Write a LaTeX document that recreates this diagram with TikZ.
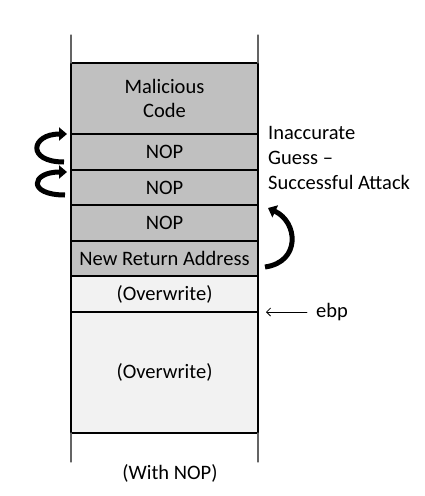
\documentclass[tikz,border=0pt]{standalone}
\usepackage{fontspec}
\setmainfont{Carlito}
\usetikzlibrary{positioning,arrows.meta}
\definecolor{cellgray}{RGB}{192,192,192}
\definecolor{cellpale}{RGB}{242,242,242}
\definecolor{railgray}{RGB}{100,100,100}
\begin{document}
\begin{tikzpicture}[x=1pt,y=-1pt,line cap=round,line join=round,>=latex,
    cell/.style={draw,line width=1.4pt,minimum width=187pt,inner sep=0pt,outer sep=0pt,
      font=\fontsize{20.5}{24.5}\selectfont,align=center},
    rail/.style={draw=railgray,line width=1.2pt},
    hop/.style={line width=5pt,line cap=butt,-{Triangle[length=8pt,width=13pt]}},
    ptr/.style={line width=0.8pt,-{Straight Barb[length=4pt,width=8pt]}},
    lbl/.style={font=\fontsize{20.5}{25}\selectfont,inner sep=0pt}]
  \useasboundingbox (0,0) rectangle (424,496);
  \node[cell,fill=cellgray,minimum height=71pt] (mal) at (164.5,98.5) {Malicious\\Code};
  \node[cell,fill=cellgray,minimum height=36pt,below=0pt of mal] (nop1) {NOP};
  \node[cell,fill=cellgray,minimum height=35pt,below=0pt of nop1] (nop2) {NOP};
  \node[cell,fill=cellgray,minimum height=36pt,below=0pt of nop2] (nop3) {NOP};
  \node[cell,fill=cellgray,minimum height=35pt,below=0pt of nop3] (ret) {New Return Address};
  \node[cell,fill=cellpale,minimum height=36pt,below=0pt of ret] (ow1) {(Overwrite)};
  \node[cell,fill=cellpale,minimum height=121pt,below=0pt of ow1] (ow2) {(Overwrite)};
  \draw[line width=2.2pt] (mal.north west) -- (ow2.south west);
  \draw[line width=1.8pt] (mal.north east) -- (ow2.south east);
  \draw[rail] (mal.north west) -- ++(0,-28);
  \draw[rail] (mal.north east) -- ++(0,-28);
  \draw[rail] (ow2.south west) -- ++(0,29);
  \draw[rail] (ow2.south east) -- ++(0,29);
  \node[lbl] (note) at (170,473) {(With NOP)};
  \node[lbl,anchor=west,align=left] (guess) at (268,158) {Inaccurate\\Guess --\\Successful Attack};
  \node[lbl,anchor=west] (ebp) at (316,312) {ebp};
  \draw[ptr] ([xshift=-9pt]ebp.west) -- ([xshift=8pt]ow1.south east);
  \coordinate (t1) at ([xshift=-7pt,yshift=8pt]nop1.south west);
  \coordinate (h1) at ([xshift=-4pt]nop1.north west);
  \coordinate (t2) at ([xshift=-6pt,yshift=10pt]nop2.south west);
  \coordinate (h2) at ([xshift=-4pt,yshift=-2pt]nop2.north west);
  \coordinate (t3) at ([xshift=7pt,yshift=9pt]ret.south east);
  \coordinate (h3) at ([xshift=10pt,yshift=-3pt]nop3.north east);
  \draw[hop] (t1) .. controls +(-38,0) and +(-36,0) .. (h1);
  \draw[hop] (t2) .. controls +(-38,0) and +(-36,0) .. (h2);
  \draw[hop] (t3) .. controls +(36,-5) and +(30,14) .. (h3);
\end{tikzpicture}
\end{document}
